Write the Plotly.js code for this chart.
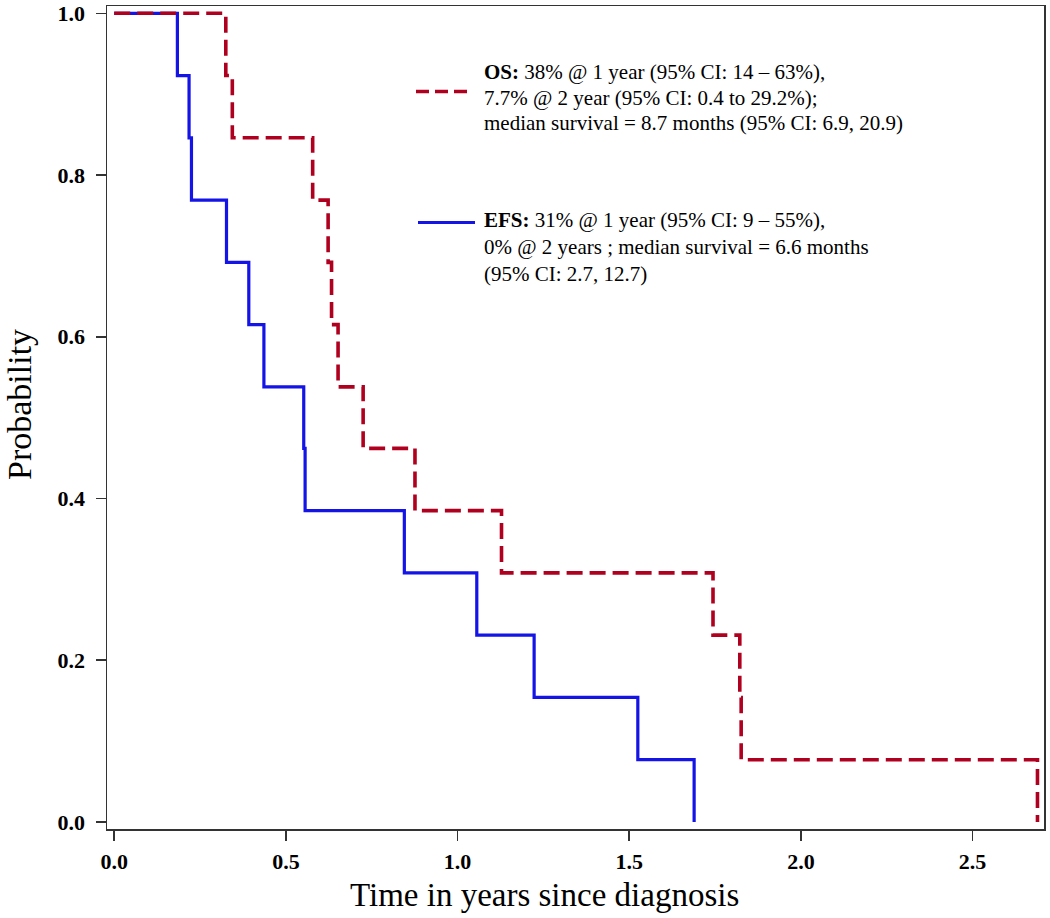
<!DOCTYPE html>
<html>
<head>
<meta charset="utf-8">
<script src="https://cdn.plot.ly/plotly-3.0.1.min.js"></script>
<style>html,body{margin:0;padding:0;background:#fff;}#chart{width:1050px;height:918px;}</style>
</head>
<body>
<div id="chart"></div>
<script>
// Kaplan-Meier step data (time in years, survival probability)
const osTimes  = [0, 0.325, 0.344, 0.578, 0.623, 0.633, 0.652, 0.725, 0.876, 1.128, 1.744, 1.822, 1.826, 2.689];
const osProb   = [1, 0.923, 0.846, 0.769, 0.692, 0.615, 0.538, 0.462, 0.385, 0.308, 0.231, 0.154, 0.077, 0];
const efsTimes = [0, 0.184, 0.218, 0.225, 0.327, 0.392, 0.436, 0.552, 0.556, 0.845, 1.056, 1.223, 1.525, 1.689];
const efsProb  = [1, 0.923, 0.846, 0.769, 0.692, 0.615, 0.538, 0.462, 0.385, 0.308, 0.231, 0.154, 0.077, 0];

const xTicks = [0, 0.5, 1.0, 1.5, 2.0, 2.5];
const xTickLabels = ["0.0", "0.5", "1.0", "1.5", "2.0", "2.5"];
const yTicks = [0, 0.2, 0.4, 0.6, 0.8, 1.0];
const yTickLabels = ["0.0", "0.2", "0.4", "0.6", "0.8", "1.0"];

const xTitle = "Time in years since diagnosis";
const yTitle = "Probability";

const osLegend = [
  "<b>OS:</b> 38% @ 1 year (95% CI: 14 – 63%),",
  "7.7% @ 2 year (95% CI: 0.4 to 29.2%);",
  "median survival = 8.7 months (95% CI: 6.9, 20.9)"
];
const efsLegend = [
  "<b>EFS:</b> 31% @ 1 year (95% CI: 9 – 55%),",
  "0% @ 2 years ; median survival = 6.6 months",
  "(95% CI: 2.7, 12.7)"
];

const RED = "#b0001f";
const BLUE = "#1414e6";
const SERIF = "'Liberation Serif', 'Times New Roman', serif";

const W = 1050, H = 918;
const M = {l: 107, r: 6, t: 6, b: 89};
const pw = W - M.l - M.r, ph = H - M.t - M.b;
const px = v => (v - M.l) / pw;
const py = v => (H - M.b - v) / ph;

const traces = [
  {x: efsTimes, y: efsProb, type: "scatter", mode: "lines", line: {shape: "hv", color: BLUE, width: 3.2}, name: "EFS", showlegend: false, hoverinfo: "x+y"},
  {x: osTimes, y: osProb, type: "scatter", mode: "lines", line: {shape: "hv", color: RED, width: 3.6, dash: "16px,7px"}, name: "OS", showlegend: false, hoverinfo: "x+y"}
];

const annotations = [];
const lineYs1 = [72, 97.5, 123];
const lineYs2 = [220, 247, 274];
osLegend.forEach((t, i) => annotations.push({xref: "paper", yref: "paper", x: px(482), y: py(lineYs1[i]), xanchor: "left", yanchor: "middle", text: t, showarrow: false, align: "left", font: {family: SERIF, size: 21, color: "#000"}}));
efsLegend.forEach((t, i) => annotations.push({xref: "paper", yref: "paper", x: px(482), y: py(lineYs2[i]), xanchor: "left", yanchor: "middle", text: t, showarrow: false, align: "left", font: {family: SERIF, size: 21, color: "#000"}}));
annotations.push({xref: "paper", yref: "paper", x: px(544), y: py(895), xanchor: "center", yanchor: "middle", text: xTitle, showarrow: false, font: {family: SERIF, size: 33, color: "#000"}});
annotations.push({xref: "paper", yref: "paper", x: px(19), y: py(405), xanchor: "center", yanchor: "middle", text: yTitle, textangle: -90, showarrow: false, font: {family: SERIF, size: 34, color: "#000"}});

const shapes = [
  {type: "line", xref: "paper", yref: "paper", x0: px(416), x1: px(471), y0: py(91.5), y1: py(91.5), line: {color: RED, width: 3.6, dash: "13px,6px"}},
  {type: "line", xref: "paper", yref: "paper", x0: px(418), x1: px(475), y0: py(222.5), y1: py(222.5), line: {color: BLUE, width: 3.2}}
];

const tickFont = {family: SERIF, size: 22, color: "#000", weight: "bold"};

const layout = {
  width: W, height: H,
  margin: M,
  paper_bgcolor: "#fff", plot_bgcolor: "#fff",
  showlegend: false,
  xaxis: {
    range: [-0.021, 2.708], tickvals: xTicks, ticktext: xTickLabels,
    ticks: "outside", ticklen: 10, tickwidth: 1.5, tickcolor: "#333",
    showline: true, linecolor: "#333", linewidth: 1.5, mirror: true,
    showgrid: false, zeroline: false, ticklabelstandoff: 2,
    tickfont: tickFont
  },
  yaxis: {
    range: [-0.0087, 1.009], tickvals: yTicks, ticktext: yTickLabels,
    ticks: "outside", ticklen: 10, tickwidth: 1.5, tickcolor: "#333",
    showline: true, linecolor: "#333", linewidth: 1.5, mirror: true,
    showgrid: false, zeroline: false, ticklabelstandoff: 6,
    tickfont: tickFont
  },
  annotations: annotations,
  shapes: shapes
};

Plotly.newPlot("chart", traces, layout, {displayModeBar: false, staticPlot: true});
</script>
</body>
</html>
